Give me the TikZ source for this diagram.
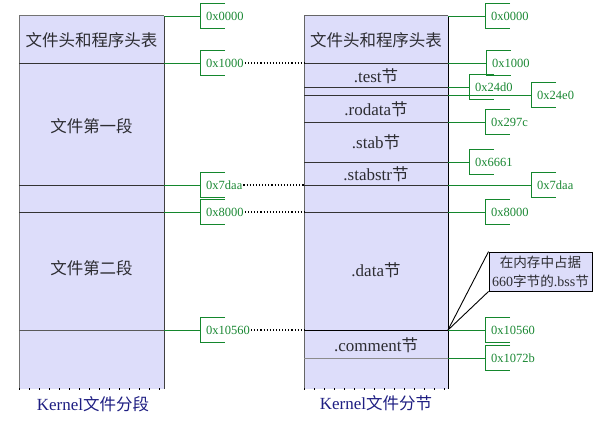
\documentclass[tikz,border=0pt]{standalone}
\usepackage{fontspec}
\setmainfont{Liberation Serif}
\newfontfamily\cjkfont[Scale=0.97]{Noto Sans CJK SC}
\newcommand\zhtxt[1]{{\cjkfont #1}}
\definecolor{boxfill}{RGB}{221,221,250}
\definecolor{gline}{RGB}{20,135,45}
\definecolor{gtext}{RGB}{25,135,50}
\definecolor{navylab}{RGB}{30,30,130}
\definecolor{labtext}{RGB}{45,45,50}
\tikzset{
  gline/.style={draw=gline, line width=0.9pt},
  addr/.style={anchor=west, inner sep=0pt, text=gtext, font=\fontsize{12.5}{14}\selectfont},
  seclab/.style={inner sep=0pt, text=labtext, font=\fontsize{17}{19}\selectfont},
  sepline/.style={draw=black!80, line width=0.9pt},
  graysep/.style={draw=black!45, line width=0.9pt},
  dotconn/.style={draw=black, dotted, line width=1.1pt},
  botlab/.style={inner sep=0pt, text=navylab, font=\fontsize{17}{19}\selectfont},
  callout/.style={draw=black, fill=boxfill, line width=0.9pt, inner sep=0pt, minimum width=103pt, minimum height=39pt, align=center, text=labtext, font=\fontsize{14}{19}\selectfont}
}
\newcommand\addrmark[5]{%
  \coordinate (#1-s) at (#3,#2);
  \coordinate (#1-b) at (#4,#2);
  \draw[gline] (#1-s) -- (#1-b);
  \draw[gline] ([xshift=25pt,yshift=12.5pt]#1-b) -- ([yshift=12.5pt]#1-b) -- ([yshift=-12.5pt]#1-b) -- ([xshift=25pt,yshift=-12.5pt]#1-b);
  \node[addr] (#1) at ([xshift=6pt]#1-b) {#5};
}
\begin{document}
\begin{tikzpicture}[x=1pt,y=-1pt]
\useasboundingbox (0,0) rectangle (602,422);
% columns
\fill[boxfill] (19,16) rectangle (164,389);
\fill[boxfill] (304,16) rectangle (448,389);
\draw[draw=black!55, line width=1pt] (19,389) -- (19,16) -- (164,16);
\draw[draw=black!75, line width=1pt] (164,16) -- (164,389);
\draw[draw=black!60, line width=1pt] (304,389) -- (304,16) -- (448,16);
\draw[draw=black, line width=1pt] (448,16) -- (448,389);
\draw[black, line width=1.3pt, dash pattern=on 1.3pt off 8.7pt] (19,389) -- (164,389);
\draw[black, line width=1.3pt, dash pattern=on 1.3pt off 8.7pt] (304,389) -- (448,389);
% left separators
\draw[sepline] (19,63) -- (164,63);
\draw[sepline] (19,185) -- (164,185);
\draw[sepline] (19,212) -- (164,212);
\draw[draw=black!65, line width=0.9pt] (19,330) -- (164,330);
% right separators
\draw[sepline] (304,63) -- (448,63);
\draw[sepline] (304,87) -- (448,87);
\draw[sepline] (304,95) -- (448,95);
\draw[sepline] (304,122) -- (448,122);
\draw[sepline] (304,162) -- (448,162);
\draw[sepline] (304,185) -- (448,185);
\draw[sepline] (304,212) -- (448,212);
\draw[draw=black, line width=0.9pt] (304,330) -- (448,330);
\draw[graysep] (304,358) -- (448,358);
% left labels
\node[seclab] (lhead) at (91.5,40) {\zhtxt{文件头和程序头表}};
\node[seclab] (lseg1) at (91.5,126) {\zhtxt{文件第一段}};
\node[seclab] (lseg2) at (91.5,268) {\zhtxt{文件第二段}};
% right labels
\node[seclab] (rhead) at (376,40) {\zhtxt{文件头和程序头表}};
\node[seclab] (rtest) at (376,76) {.test\zhtxt{节}};
\node[seclab] (rrodata) at (376,109) {.rodata\zhtxt{节}};
\node[seclab] (rstab) at (376,142) {.stab\zhtxt{节}};
\node[seclab] (rstabstr) at (376,174) {.stabstr\zhtxt{节}};
\node[seclab] (rdata) at (376,270) {.data\zhtxt{节}};
\node[seclab] (rcomment) at (376,345) {.comment\zhtxt{节}};
% bottom labels
\node[botlab] (lbot) at (93,404) {Kernel\zhtxt{文件分段}};
\node[botlab] (rbot) at (376,403) {Kernel\zhtxt{文件分节}};
% left addresses
\addrmark{la0}{16}{164}{200}{0x0000}
\addrmark{la1}{63}{164}{200}{0x1000}
\addrmark{la2}{185}{164}{200}{0x7daa}
\addrmark{la3}{212}{164}{200}{0x8000}
\addrmark{la4}{330}{164}{200}{0x10560}
% right addresses
\addrmark{ra0}{16}{448}{485}{0x0000}
\addrmark{ra1}{63}{448}{486}{0x1000}
\addrmark{ra2}{87}{448}{469}{0x24d0}
\addrmark{ra3}{95}{448}{531}{0x24e0}
\addrmark{ra4}{122}{448}{485}{0x297c}
\addrmark{ra5}{162}{448}{469}{0x6661}
\addrmark{ra6}{185}{448}{531}{0x7daa}
\addrmark{ra7}{212}{448}{485}{0x8000}
\addrmark{ra8}{330}{448}{485}{0x10560}
\addrmark{ra9}{358}{448}{485}{0x1072b}
% dotted connectors
\coordinate (rl1) at (304,63);
\coordinate (rl2) at (304,185);
\coordinate (rl3) at (304,212);
\coordinate (rl4) at (304,330);
\draw[dotconn] ([xshift=1pt]la1.east) -- (rl1);
\draw[dotconn] ([xshift=1pt]la2.east) -- (rl2);
\draw[dotconn] ([xshift=1pt]la3.east) -- (rl3);
\draw[dotconn] ([xshift=1pt]la4.east) -- (rl4);
% callout
\node[callout] (bss) at (540.5,271.5) {\zhtxt{在内存中占据}\\660\zhtxt{字节的}.bss\zhtxt{节}};
\coordinate (bsspt) at (448,330);
\draw[black, line width=0.9pt] (bsspt) -- (bss.north west);
\draw[black, line width=0.9pt] (bsspt) -- (bss.south west);
\end{tikzpicture}
\end{document}
